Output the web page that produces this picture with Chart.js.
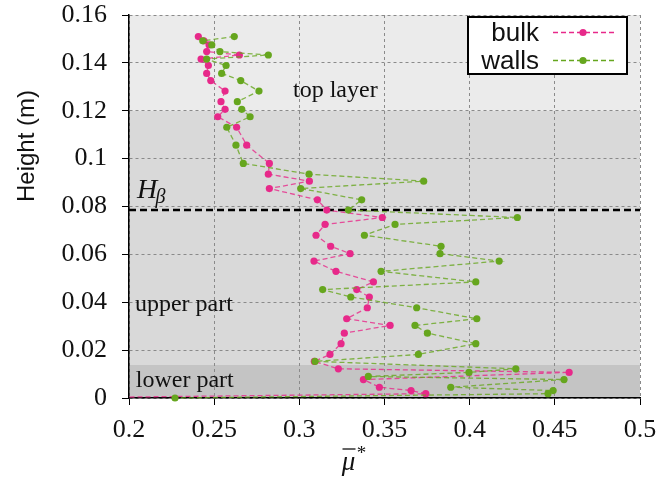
<!DOCTYPE html>
<html>
<head>
<meta charset="utf-8">
<script src="https://cdn.jsdelivr.net/npm/chart.js@4.4.1/dist/chart.umd.min.js"></script>
<style>
  body { margin: 0; background: #fff; }
  #wrap { width: 661px; height: 490px; position: relative; }
</style>
</head>
<body>
<div id="wrap"><canvas id="myChart"></canvas></div>
<script>
// Heights (m) and mu values
const bulkHeight = [0.1510, 0.1492, 0.1475, 0.1447, 0.1433, 0.1416, 0.1389, 0.1356, 0.1326, 0.1282,
    0.1238, 0.1206, 0.1175, 0.1131, 0.1056, 0.0980, 0.0935, 0.0906, 0.0875, 0.0828,
    0.0785, 0.0754, 0.0725, 0.0680, 0.0634, 0.0603, 0.0572, 0.0529, 0.0485, 0.0453,
    0.0422, 0.0377, 0.0331, 0.0303, 0.0271, 0.0227, 0.0182, 0.0153, 0.0122, 0.0107,
    0.0077, 0.0045, 0.0031, 0.0018, 0.0];
const bulkMu = [0.2407, 0.2440, 0.2470, 0.2456, 0.2648, 0.2423, 0.2466, 0.2456, 0.2480, 0.2564,
    0.2540, 0.2564, 0.2521, 0.2632, 0.2691, 0.2824, 0.2818, 0.3059, 0.2824, 0.3106,
    0.3161, 0.3487, 0.3151, 0.3098, 0.3184, 0.3298, 0.3086, 0.3215, 0.3435, 0.3337,
    0.3411, 0.3399, 0.3278, 0.3533, 0.3264, 0.3245, 0.3180, 0.3088, 0.3229, 0.4584,
    0.3376, 0.3470, 0.3656, 0.3742, 0.15];

const wallsHeight = [0.1510, 0.1492, 0.1475, 0.1447, 0.1433, 0.1416, 0.1389, 0.1356, 0.1326, 0.1282,
    0.1238, 0.1206, 0.1175, 0.1131, 0.1056, 0.0980, 0.0935, 0.0906, 0.0875, 0.0828,
    0.0785, 0.0754, 0.0725, 0.0680, 0.0634, 0.0603, 0.0572, 0.0529, 0.0485, 0.0453,
    0.0422, 0.0377, 0.0331, 0.0303, 0.0271, 0.0227, 0.0182, 0.0153, 0.0122, 0.0107,
    0.0090, 0.0077, 0.0045, 0.0031, 0.0018, 0.0];
const wallsMu = [0.2618, 0.2433, 0.2486, 0.2534, 0.2818, 0.2456, 0.2570, 0.2544, 0.2656, 0.2763,
    0.2636, 0.2662, 0.2711, 0.2574, 0.2628, 0.2671, 0.3057, 0.3730, 0.3008, 0.3366,
    0.3288, 0.4280, 0.3562, 0.3382, 0.3832, 0.3826, 0.4173, 0.3480, 0.4036, 0.3137,
    0.3302, 0.3689, 0.4042, 0.3679, 0.3752, 0.4036, 0.3699, 0.3092, 0.4271, 0.3996,
    0.3405, 0.4554, 0.3889, 0.4490, 0.4460, 0.2270];

const xTicks = [0.2, 0.25, 0.3, 0.35, 0.4, 0.45, 0.5];
const xTickLabels = ['0.2', '0.25', '0.3', '0.35', '0.4', '0.45', '0.5'];
const yTicks = [0, 0.02, 0.04, 0.06, 0.08, 0.1, 0.12, 0.14, 0.16];
const yTickLabels = ['0', '0.02', '0.04', '0.06', '0.08', '0.1', '0.12', '0.14', '0.16'];

// zones of the bed
const topLayerStart = 0.12;
const lowerPartEnd = 0.0138;
const hBeta = 0.0785;

const pink = '#e7298a';
const green = '#66a61e';
const serif = '"Liberation Serif", serif';
const sans = '"Liberation Sans", sans-serif';

// shaded zones, H_beta line and zone labels under the data
const zonesPlugin = {
    id: 'zones',
    beforeDraw(chart) {
        const { ctx, chartArea: a, scales: { y } } = chart;
        const yTop = y.getPixelForValue(topLayerStart);
        const yLow = y.getPixelForValue(lowerPartEnd);
        ctx.save();
        ctx.fillStyle = '#ebebeb';
        ctx.fillRect(a.left, a.top, a.right - a.left, yTop - a.top);
        ctx.fillStyle = '#d9d9d9';
        ctx.fillRect(a.left, yTop, a.right - a.left, yLow - yTop);
        ctx.fillStyle = '#c4c4c4';
        ctx.fillRect(a.left, yLow, a.right - a.left, a.bottom - yLow);
        ctx.restore();
    },
    beforeDatasetsDraw(chart) {
        const { ctx, chartArea: a, scales: { x, y } } = chart;
        ctx.save();
        // H_beta
        const yb = y.getPixelForValue(hBeta);
        ctx.strokeStyle = '#000';
        ctx.lineWidth = 2.5;
        ctx.setLineDash([7, 4]);
        ctx.beginPath();
        ctx.moveTo(a.left, yb);
        ctx.lineTo(a.right, yb);
        ctx.stroke();
        ctx.setLineDash([]);

        ctx.fillStyle = '#111';
        ctx.textBaseline = 'alphabetic';
        ctx.textAlign = 'left';
        ctx.font = 'italic 28px ' + serif;
        const hx = x.getPixelForValue(0.2047);
        const hy = y.getPixelForValue(0.0835);
        ctx.fillText('H', hx, hy);
        ctx.font = 'italic 20px ' + serif;
        ctx.fillText('β', hx + ctx.measureText('H').width + 4, hy + 5);

        ctx.font = '24px ' + serif;
        ctx.fillText('top layer', x.getPixelForValue(0.2963), y.getPixelForValue(0.1257));
        ctx.fillText('upper part', x.getPixelForValue(0.2035), y.getPixelForValue(0.0362));
        ctx.fillText('lower part', x.getPixelForValue(0.204), y.getPixelForValue(0.0048));
        ctx.restore();
    },
    afterDraw(chart) {
        const { ctx, chartArea: a } = chart;
        ctx.save();
        // axis titles
        ctx.fillStyle = '#111';
        ctx.font = '24px ' + sans;
        ctx.textAlign = 'center';
        ctx.textBaseline = 'middle';
        ctx.translate(27, 146);
        ctx.rotate(-Math.PI / 2);
        ctx.fillText('Height (m)', 0, 0);
        ctx.setTransform(1, 0, 0, 1, 0, 0);

        const cx = (a.left + a.right) / 2 - 36;
        ctx.textBaseline = 'alphabetic';
        ctx.font = 'italic 27px ' + serif;
        ctx.fillText('μ', cx, 470);
        ctx.lineWidth = 1.3;
        ctx.strokeStyle = '#111';
        ctx.beginPath();
        ctx.moveTo(cx - 6, 449);
        ctx.lineTo(cx + 7, 449);
        ctx.stroke();
        ctx.font = '19px ' + serif;
        ctx.fillText('*', cx + 13, 459);

        // legend box
        const lx = 468, ly = 17, lw = 159, lh = 57;
        ctx.fillStyle = '#fff';
        ctx.fillRect(lx, ly, lw, lh);
        ctx.strokeStyle = '#000';
        ctx.lineWidth = 2;
        ctx.strokeRect(lx, ly, lw, lh);
        const rows = [['bulk', pink, 32.5], ['walls', green, 60.5]];
        ctx.font = '26px ' + sans;
        ctx.textAlign = 'right';
        ctx.textBaseline = 'middle';
        rows.forEach(([label, color, yy]) => {
            ctx.fillStyle = '#111';
            ctx.fillText(label, 539, yy + 1);
            ctx.strokeStyle = color;
            ctx.lineWidth = 1.3;
            ctx.setLineDash([5, 3]);
            ctx.beginPath();
            ctx.moveTo(553, yy);
            ctx.lineTo(614, yy);
            ctx.stroke();
            ctx.setLineDash([]);
            ctx.fillStyle = color;
            ctx.beginPath();
            ctx.arc(583, yy, 3.6, 0, Math.PI * 2);
            ctx.fill();
        });
        ctx.restore();
    }
};

function series(label, heights, mus, color) {
    return {
        label: label,
        data: mus.map((m, i) => ({ x: m, y: heights[i] })),
        showLine: true,
        borderColor: color + 'cc',
        backgroundColor: color,
        borderWidth: 1.3,
        borderDash: [5, 3],
        pointRadius: 3.6,
        pointBorderWidth: 0,
        pointHoverRadius: 3.6,
        clip: { left: 0, top: 5, right: 5, bottom: 6 }
    };
}

const ctx = document.getElementById('myChart').getContext('2d');
const chart = new Chart(ctx, {
    type: 'scatter',
    data: {
        datasets: [
            series('walls', wallsHeight, wallsMu, green),
            series('bulk', bulkHeight, bulkMu, pink)
        ]
    },
    options: {
        responsive: true,
        maintainAspectRatio: false,
        animation: false,
        layout: { padding: { top: 15, right: 21, left: 0, bottom: 0 } },
        plugins: { legend: { display: false }, tooltip: { enabled: false } },
        scales: {
            x: {
                type: 'linear',
                min: 0.2,
                max: 0.5,
                afterBuildTicks: (s) => { s.ticks = xTicks.map(v => ({ value: v })); },
                afterFit: (s) => { s.height = 92; s.paddingLeft = 0; s.paddingRight = 0; },
                ticks: {
                    callback: (v, i) => xTickLabels[i],
                    font: { family: serif, size: 26 },
                    color: '#111',
                    padding: 10,
                    maxRotation: 0
                },
                grid: { color: '#8a8a8a', lineWidth: 1, tickLength: 7, tickColor: '#000' },
                border: { display: true, color: '#000', width: 1.5, dash: [3, 3] }
            },
            y: {
                type: 'linear',
                min: 0,
                max: 0.16,
                afterBuildTicks: (s) => { s.ticks = yTicks.map(v => ({ value: v })); },
                afterFit: (s) => { s.width = 129; s.paddingTop = 0; s.paddingBottom = 0; },
                ticks: {
                    callback: (v, i) => yTickLabels[i],
                    font: { family: serif, size: 26 },
                    color: '#111',
                    padding: 15
                },
                grid: { color: '#8a8a8a', lineWidth: 1, tickLength: 7, tickColor: '#000' },
                border: { display: true, color: '#000', width: 1.5, dash: [3, 3] }
            }
        }
    },
    plugins: [zonesPlugin]
});
</script>
</body>
</html>
